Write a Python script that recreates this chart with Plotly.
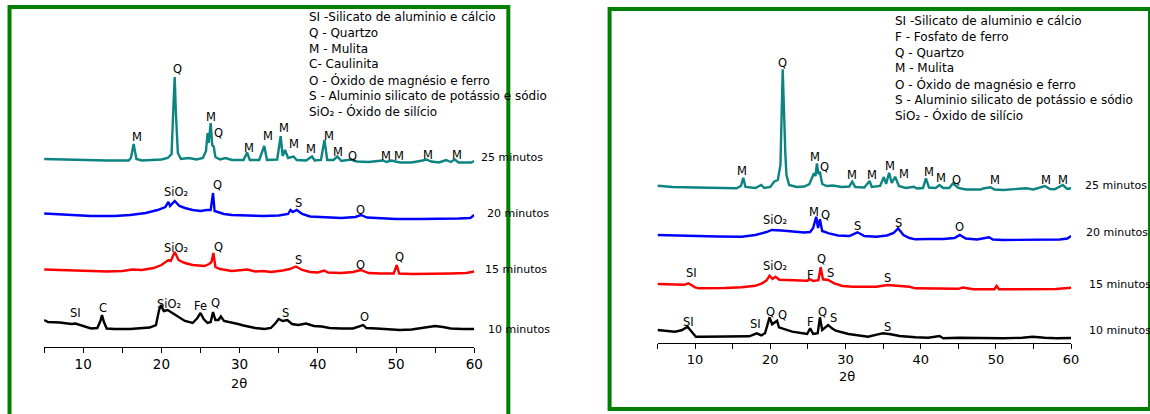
import plotly.graph_objects as go

# Reference geometry is expressed in pixels of the 1150x414 picture; K maps it to figure pixels.
K = 1.0105
REF_W, H = 1150, 414
W = round(REF_W * K)
FONT = "DejaVu Sans"

# ---------------- DATA (2θ, intensity in a.u. above each pattern's own baseline) ----------------
# Left panel
L25_x = [5, 7, 10, 13, 15.8, 16.1, 16.45, 16.8, 17.5, 19, 20, 20.8, 21.3, 21.55, 21.7, 21.85, 22.1, 22.5, 23.5, 24.5,
         25.3, 25.7, 25.9, 26.05, 26.3, 26.5, 26.7, 26.9, 27.5, 28.2, 29, 30.5, 30.95, 31.3, 32.5, 33.15, 33.5, 34.8,
         35.25, 35.5, 35.8, 36.2, 36.9, 37.3, 38.5, 39.25, 39.6, 40.4, 40.85, 41.2, 42.0, 42.5, 43.0, 44.2, 45, 46.5,
         48.3, 48.8, 49.4, 50.5, 52, 53.4, 53.9, 54.5, 55.5, 56.4, 57, 57.5, 58, 59, 59.6, 60]
L25_y = [4, 3.5, 3, 2.5, 2.5, 5, 19, 4, 2.5, 3, 3.5, 5, 9, 60, 86, 50, 10, 4, 5, 3.5,
         5, 12, 30, 20, 40, 18, 16, 6, 3.5, 5, 3, 3, 10.5, 3, 3, 17, 3, 3.5,
         27, 7, 13, 5, 6.5, 3, 2.5, 6.5, 2.5, 3, 23, 3, 3, 6.5, 2, 3.5, 1.5, 1,
         2.5, 1, 2.5, 0.5, 0.5, 2.5, 3.5, 1.5, 0.5, 3, 1, 3.5, 0.5, 0.5, 0.5, 2]

L20_x = [5, 8, 11, 14, 16, 18, 19.5, 20.5, 20.9, 21.1, 21.7, 22.3, 23, 24, 25, 25.8, 26.3, 26.6, 26.8, 27.2, 28, 29,
         31, 33, 35, 36.2, 36.5, 36.8, 37.3, 38, 39, 41, 43, 44.8, 45.5, 46.3, 48, 50, 53, 56, 58, 59.5, 60]
L20_y = [5.5, 4.5, 3, 3, 4, 6, 9, 12, 17, 13, 18, 13, 11, 9, 8, 9, 9, 26, 8, 7, 5, 4,
         3.5, 3, 3.5, 5, 9, 7, 9, 5, 2.5, 1.5, 1, 2, 4, 1.5, 0.5, 0, 0, 0, 0.5, 1, 4]

L15_x = [5, 7, 9, 11, 13, 15, 16.3, 17.5, 19, 20, 20.9, 21.2, 21.7, 22.2, 23, 24, 25.5, 26.1, 26.4, 26.65, 26.9, 27.5,
         29, 31, 32, 33, 34, 35.5, 36.4, 37.2, 38, 39, 40, 40.8, 41.3, 43, 44.5, 45.5, 46.5, 48, 49.7, 50.1, 50.4,
         52, 55, 57, 59, 60]
L15_y = [4.5, 4, 3, 2.5, 2.5, 3, 4.5, 4, 6, 9, 14, 13, 22, 14, 11, 9, 8, 10, 12, 21, 7, 5,
         3, 4.5, 2.5, 3, 2, 3.5, 5, 7.5, 4, 2, 1.5, 3.5, 1.5, 1, 2, 4, 1, 0.5, 0.5, 9, 0.5,
         0, 0, 0.5, 1, 2.5]

L10_x = [5, 5.5, 7, 8.5, 9.0, 10, 11, 11.8, 12.2, 12.4, 12.65, 13, 14, 16, 17.5, 18.5, 19.3, 19.7, 19.95, 20.3, 20.8,
         21.5, 22.2, 23, 24, 24.6, 25.0, 25.4, 25.9, 26.3, 26.6, 26.9, 27.3, 27.6, 28, 28.8, 29.8, 30.5, 31, 32,
         33.2, 34, 34.6, 35.0, 35.5, 36.1, 36.7, 37.5, 38.5, 39.5, 40.5, 41.5, 43, 44.5, 45.8, 46.2, 47.5, 48.5,
         50.5, 52, 53.5, 55, 56, 57, 58.5, 60]
L10_y = [10, 8, 7.5, 6, 6.5, 4, 1.5, 2, 9, 15, 8, 1.5, 1, 1, 1.5, 2.5, 5, 20, 25, 19, 20,
         16.7, 13, 9, 7, 12, 17, 11, 7, 8, 18, 10, 10, 13.5, 9, 8, 6, 4.5, 3.5, 2,
         1, 2, 7, 11, 9, 10, 6, 5, 6.5, 4, 3.5, 2, 1.5, 1.5, 5, 2, 1.5, 1,
         0, 0.5, 2, 4, 3, 1.5, 1, 1]

# Right panel
R25_x = [5, 7, 10, 13, 15.5, 16.1, 16.4, 16.7, 18, 18.8, 19.2, 20, 20.5, 21, 21.35, 21.65, 21.85, 22.0, 22.15, 22.5,
         23.5, 24.5, 25.2, 25.8, 26.0, 26.2, 26.4, 26.6, 26.9, 27.5, 28.3, 29.5, 30.5, 30.9, 31.3, 32.5, 33.2, 33.5,
         34.6, 35.1, 35.4, 35.8, 36.15, 36.6, 37.1, 38, 39.1, 39.5, 40.3, 40.7, 41.1, 42.0, 42.5, 43.0, 43.8, 44.3,
         45, 46, 48, 48.3, 49.3, 49.8, 51, 52.5, 54, 55, 56.5, 57.2, 57.8, 58.9, 59.5, 60]
R25_y = [4.3, 3, 2.5, 2, 1.7, 4, 12.3, 3, 2, 5, 2, 3, 8.3, 10, 25, 120.7, 60, 36, 15, 5,
         3, 3.5, 6, 16.7, 14, 26.7, 16, 18.3, 6, 4, 4.5, 3, 3.5, 8.3, 3, 2.5, 9, 3,
         4, 13, 6, 17.3, 7, 13.3, 4, 2, 3.3, 1.5, 2, 11.7, 2.5, 2, 5, 2, 2, 6.7,
         2, 0.5, 0.5, 1.5, 2.7, 0.5, 0, 0.5, 1.7, 0.5, 4, 1, 0.7, 5, 1, 1.7]

R20_x = [5, 7, 10, 13, 16.2, 18, 19.5, 20.2, 21.5, 22.9, 24.5, 25.3, 25.7, 26.1, 26.35, 26.6, 26.9, 27.8, 29, 30.5,
         31.6, 32.5, 34.1, 35.5, 36.4, 37.0, 37.7, 38.5, 39.3, 41, 43, 44.5, 45.2, 46, 47.5, 49.1, 49.6, 51, 52.6,
         55, 57, 58.5, 59.5, 60]
R20_y = [5, 4.5, 3.5, 3.5, 3.3, 5, 8, 10, 9.5, 8.3, 7.5, 8, 12, 23.3, 12, 20.7, 9, 6.7, 4.5, 4,
         7.7, 4, 3.3, 4.5, 7, 11.7, 5, 2, 0.7, 1, 1, 2, 5, 1.5, 0.5, 2.7, 0.5, 0, 0,
         0, 0.5, 0.5, 1.5, 4]

R15_x = [5, 7, 8.5, 9.1, 10.0, 10.5, 12, 14, 16.2, 18, 18.9, 19.5, 19.9, 20.3, 20.7, 21.2, 22.2, 24.9, 25.3, 25.7,
         26.4, 26.7, 27.0, 27.7, 28.5, 29.6, 31, 34.1, 35.6, 37, 38.5, 39.3, 42, 45, 45.6, 47, 49.8, 50.1, 50.4,
         53, 56, 58, 60]
R15_y = [5.3, 5, 4.5, 6, 2, 1, 1, 1.3, 2, 3.5, 6, 9, 13.6, 10.3, 12.6, 9.5, 9.3, 8.6, 10, 8.3,
         9, 22, 10, 9.3, 6, 3.3, 2.5, 2.6, 4.3, 3.3, 2.5, 1, 0.5, 0.5, 1.7, 0, 0, 3.3, 0,
         0, 0, 0.3, 1.6]

R10_x = [5, 6, 7.3, 8.2, 9.0, 9.6, 10.1, 11, 14, 17.2, 18.2, 18.8, 19.3, 19.65, 19.9, 20.25, 20.45, 20.9, 21.15,
         21.6, 22.9, 24.3, 24.9, 25.3, 25.7, 26.3, 26.6, 26.9, 27.3, 27.7, 28.2, 28.7, 30.4, 33.0, 34.3, 35.0, 36.0,
         37.2, 39.3, 41, 42.5, 43, 45, 48, 51, 53.5, 54.9, 56.5, 58, 60]
R10_y = [8.3, 7.3, 6.6, 8, 11.6, 6, 1.6, 1.6, 1.6, 2, 5, 3, 5, 16, 21, 14, 15, 17.6, 11,
         10, 6.6, 5, 4.3, 10, 4.3, 5, 21, 8.3, 11, 13.3, 10, 7.6, 4.3, 1.6, 4, 5, 4,
         2.3, 1, 0.5, 2.3, 0, 0.5, 0, 0, 0.5, 1.6, 0.5, 0, 0.3]

# Series names / colours
SERIES = ["25 minutos", "20 minutos", "15 minutos", "10 minutos"]
COLORS = ["#0b8482", "#0000ff", "#ff0000", "#000000"]

# Peak labels: (text, 2θ, height above the pattern's baseline)
SIO2 = "SiO₂"
L_LABELS = [
    [("M", 16.88, 25.7), ("Q", 22.01, 93.7), ("M", 26.28, 45.7), ("Q", 27.35, 30.3), ("M", 31.19, 14.7),
     ("M", 33.63, 27), ("M", 35.68, 34.7), ("M", 36.96, 19), ("M", 39.17, 13.7), ("M", 41.45, 27),
     ("M", 42.53, 11.3), ("Q", 44.45, 7), ("M", 48.72, 7), ("M", 50.42, 7), ("M", 54.06, 8), ("M", 57.78, 8)],
    [(SIO2, 21.92, 27.3), ("Q", 27.14, 34), ("S", 37.56, 16.3), ("O", 45.51, 9)],
    [(SIO2, 21.92, 25.7), ("Q", 27.31, 27.3), ("S", 37.56, 14), ("O", 45.51, 9), ("Q", 50.42, 16.7)],
    [("SI", 8.97, 16.7), ("C", 12.47, 21.7), (SIO2, 20.96, 26), ("Fe", 25.0, 24), ("Q", 26.92, 26.7),
     ("S", 35.9, 17.3), ("O", 46.03, 13.3)],
]
R_LABELS = [
    [("Q", 21.56, 127.3), ("M", 16.23, 19.3), ("M", 26.0, 32.7), ("Q", 27.25, 23.3), ("M", 30.89, 15),
     ("M", 33.56, 15), ("M", 35.87, 24), ("M", 37.79, 16), ("M", 41.12, 18.3), ("M", 42.76, 11.7),
     ("Q", 44.76, 10), ("M", 49.92, 10), ("M", 56.67, 10), ("M", 58.99, 10)],
    [(SIO2, 20.69, 20), ("M", 25.79, 27.7), ("Q", 27.33, 25), ("S", 31.56, 14), ("S", 37.03, 17), ("O", 45.2, 13.3)],
    [("SI", 9.47, 16), (SIO2, 20.56, 23.6), ("F", 25.33, 14.3), ("Q", 26.8, 30), ("S", 28.0, 16), ("S", 35.56, 11)],
    [("SI", 9.12, 16), ("SI", 18.0, 14.3), ("Q", 20.0, 26.6), ("Q", 21.65, 23.3), ("F", 25.33, 16.6),
     ("Q", 26.89, 26.6), ("S", 28.45, 20), ("S", 35.56, 11.6)],
]

L_LEGEND = ["SI -Silicato de aluminio e cálcio", "Q - Quartzo", "M - Mulita", "C- Caulinita",
            "O - Óxido de magnésio e ferro", "S - Aluminio silicato de potássio e sódio",
            "SiO₂ - Óxido de silício"]
R_LEGEND = ["SI -Silicato de aluminio e cálcio", "F - Fosfato de ferro", "Q - Quartzo", "M - Mulita",
            "O - Óxido de magnésio e ferro", "S - Aluminio silicato de potássio e sódio",
            "SiO₂ - Óxido de silício"]
TICKS = [10, 20, 30, 40, 50, 60]

# ---------------- LAYOUT (pixel geometry, reference pixels) ----------------
L_AX = dict(x0=44, x1=473, yaxis_px=347)
R_AX = dict(x0=655.8, x1=1068.3, yaxis_px=342.7)
L_OFF = [184, 128, 73, 17]
R_OFF = [152.7, 102.7, 53.4, 4.4]

fig = go.Figure()
panels = [
    ("x", "y", [(L25_x, L25_y), (L20_x, L20_y), (L15_x, L15_y), (L10_x, L10_y)], L_OFF, L_LABELS),
    ("x2", "y2", [(R25_x, R25_y), (R20_x, R20_y), (R15_x, R15_y), (R10_x, R10_y)], R_OFF, R_LABELS),
]
annotations = []
for xa, ya, series, offs, labels in panels:
    for (xs, ys), off, col, name, labs in zip(series, offs, COLORS, SERIES, labels):
        fig.add_trace(go.Scatter(x=xs, y=[v + off for v in ys], xaxis=xa, yaxis=ya, mode="lines",
                                 line=dict(color=col, width=2.4), name=name, showlegend=False,
                                 hoverinfo="skip"))
        for txt, th, hgt in labs:
            annotations.append(dict(text=txt, x=th, y=hgt + off, xref=xa, yref=ya, showarrow=False,
                                    xanchor="center", yanchor="middle",
                                    font=dict(family=FONT, size=11.5, color="#000")))


def px(xp, yp):
    return xp / REF_W, (H - yp) / H


# minute labels
for (xs, ys), name in zip([(478, 157), (484, 213.3), (481.7, 269.3), (484.3, 329)], SERIES):
    x, y = px(xs, ys)
    annotations.append(dict(text=name, x=x, y=y, xref="paper", yref="paper", xanchor="left", yanchor="middle",
                            showarrow=False, font=dict(family=FONT, size=11, color="#000")))
for (xs, ys), name in zip([(1080, 185), (1081, 232.7), (1083.7, 284.3), (1084.3, 330)], SERIES):
    x, y = px(xs, ys)
    annotations.append(dict(text=name, x=x, y=y, xref="paper", yref="paper", xanchor="left", yanchor="middle",
                            showarrow=False, font=dict(family=FONT, size=11, color="#000")))

# legends
for i, t in enumerate(L_LEGEND):
    x, y = px(306, 17 + i * 15.8)
    annotations.append(dict(text=t, x=x, y=y, xref="paper", yref="paper", xanchor="left", yanchor="middle",
                            showarrow=False, font=dict(family=FONT, size=12, color="#000")))
for i, t in enumerate(R_LEGEND):
    x, y = px(891, 21 + i * 15.8)
    annotations.append(dict(text=t, x=x, y=y, xref="paper", yref="paper", xanchor="left", yanchor="middle",
                            showarrow=False, font=dict(family=FONT, size=12, color="#000")))

# axis titles
for xp, yp in [(238, 383), (845, 376.5)]:
    x, y = px(xp, yp)
    annotations.append(dict(text="2θ", x=x, y=y, xref="paper", yref="paper", xanchor="center", yanchor="middle",
                            showarrow=False, font=dict(family=FONT, size=13, color="#000")))


def xaxis_cfg(ax, size):
    return dict(domain=[ax["x0"] / REF_W, ax["x1"] / REF_W], range=[5, 60], tickvals=TICKS, showline=True,
                linecolor="#000", linewidth=1, ticks="outside", ticklen=5, tickcolor="#000", showgrid=False,
                zeroline=False, tickfont=dict(family=FONT, size=size, color="#000"),
                minor=dict(dtick=5, tick0=0, ticks="outside", ticklen=5, tickcolor="#000", showgrid=False))


def yaxis_cfg(ax, anchor):
    return dict(domain=[(H - ax["yaxis_px"]) / H, 1], range=[0, ax["yaxis_px"]], visible=False,
                anchor=anchor, fixedrange=True)


xl = xaxis_cfg(L_AX, 13.5)
xl["anchor"] = "y"
xr = xaxis_cfg(R_AX, 13)
xr["anchor"] = "y2"

shapes = [
    dict(type="rect", xref="paper", yref="paper", x0=9.5 / REF_W, x1=507 / REF_W, y0=-0.05, y1=(H - 7) / H,
         line=dict(color="#008000", width=4)),
    dict(type="rect", xref="paper", yref="paper", x0=608 / REF_W, x1=1147 / REF_W, y0=(H - 409) / H,
         y1=(H - 9) / H, line=dict(color="#008000", width=4)),
]

fig.update_layout(width=W, height=H, margin=dict(l=0, r=0, t=0, b=0), paper_bgcolor="white",
                  plot_bgcolor="rgba(0,0,0,0)", showlegend=False, hovermode=False,
                  xaxis=xl, yaxis=yaxis_cfg(L_AX, "x"), xaxis2=xr, yaxis2=yaxis_cfg(R_AX, "x2"),
                  annotations=annotations, shapes=shapes, font=dict(family=FONT))
fig.write_html("out.html", config={"displayModeBar": False, "staticPlot": True},
               post_script=("document.documentElement.style.margin='0px';"
                            "document.documentElement.style.padding='0px';"
                            "document.documentElement.style.overflow='hidden';"
                            "document.body.style.margin='0px';document.body.style.padding='0px';"
                            "document.body.style.overflow='hidden';"))
